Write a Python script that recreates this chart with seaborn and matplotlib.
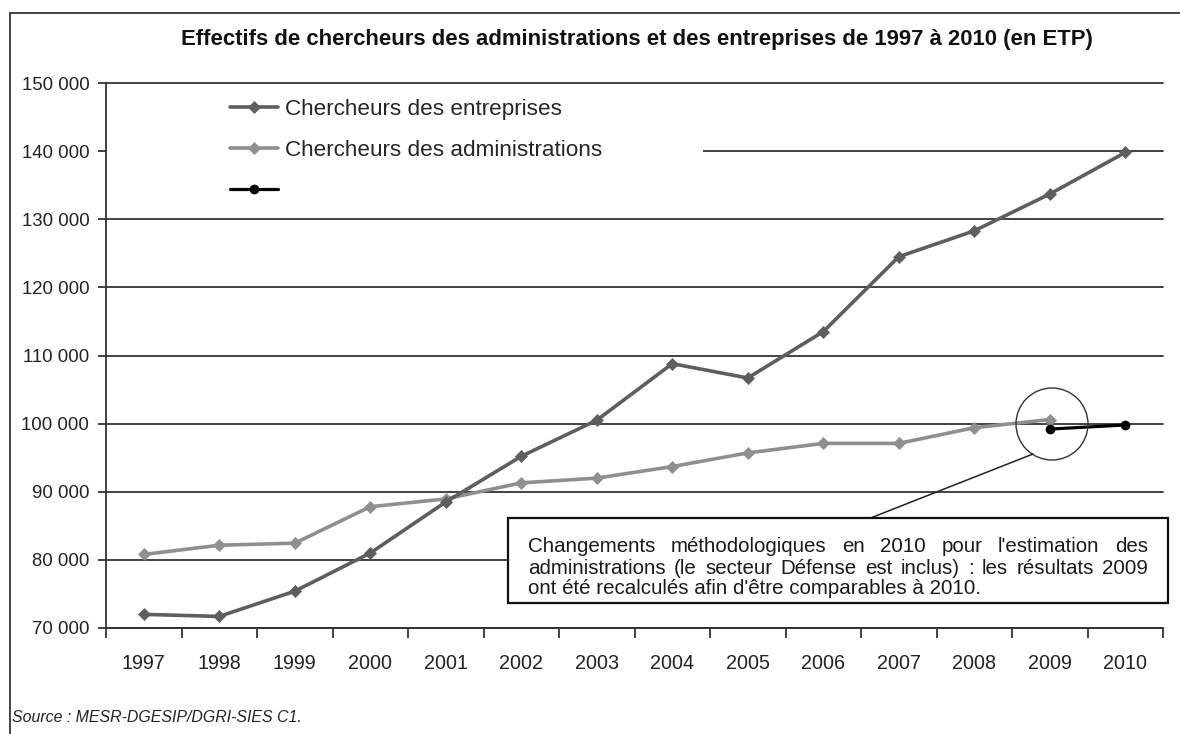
import matplotlib

matplotlib.use("Agg")
import matplotlib.pyplot as plt
import pandas as pd
import seaborn as sns
from matplotlib.lines import Line2D
from matplotlib.patches import Ellipse, Rectangle
from matplotlib.ticker import FixedLocator, FuncFormatter

# --- data ---
years = list(range(1997, 2011))
entreprises = [72000, 71700, 75400, 81000, 88500, 95200, 100500,
               108800, 106700, 113500, 124500, 128300, 133700, 139800]
admin_years = list(range(1997, 2010))
administrations = [80800, 82150, 82450, 87800, 88950, 91300, 92000,
                   93700, 95700, 97100, 97100, 99400, 100600]
new_method_years = [2009, 2010]
new_method_values = [99200, 99800]

y_ticks = [70000, 80000, 90000, 100000, 110000, 120000, 130000, 140000, 150000]
series_labels = ["Chercheurs des entreprises", "Chercheurs des administrations", ""]

title = "Effectifs de chercheurs des administrations et des entreprises de 1997 à 2010 (en ETP)"
note_lines = [
    "Changements méthodologiques en 2010 pour l'estimation des",
    "administrations (le secteur Défense est inclus) : les résultats 2009",
    "ont été recalculés afin d'être comparables à 2010.",
]
source = "Source : MESR-DGESIP/DGRI-SIES C1."

sns.set_theme(style="white")
plt.rcParams["font.family"] = ["Liberation Sans", "DejaVu Sans"]

W, H = 1180, 734


def fx(x):
    return x / W


def fy(y):
    return 1 - y / H


fig = plt.figure(figsize=(W / 100, H / 100), dpi=100)
ax = fig.add_axes([fx(106), fy(628), (1163 - 106) / W, (628 - 83) / H])

ent_df = pd.DataFrame({"annee": years, "effectif": entreprises})
adm_df = pd.DataFrame({"annee": admin_years, "effectif": administrations})
new_df = pd.DataFrame({"annee": new_method_years, "effectif": new_method_values})

sns.lineplot(data=ent_df, x="annee", y="effectif", ax=ax, color="#5e5e5e",
             linewidth=2.6, marker="D", markersize=6, markeredgecolor="#5e5e5e",
             markeredgewidth=0.5, legend=False, zorder=4)
sns.lineplot(data=adm_df, x="annee", y="effectif", ax=ax, color="#8f8f8f",
             linewidth=2.6, marker="D", markersize=6, markeredgecolor="#8f8f8f",
             markeredgewidth=0.5, legend=False, zorder=3)
sns.lineplot(data=new_df, x="annee", y="effectif", ax=ax, color="black",
             linewidth=2.3, marker="o", markersize=6.5, markeredgecolor="black",
             markeredgewidth=0.5, legend=False, zorder=5)

ax.set_xlim(1996.5, 2010.5)
ax.set_ylim(y_ticks[0], y_ticks[-1])
ax.set_xlabel("")
ax.set_ylabel("")

ax.xaxis.set_major_locator(FixedLocator(years))
ax.xaxis.set_minor_locator(FixedLocator([y - 0.5 for y in years] + [years[-1] + 0.5]))
ax.set_xticklabels([str(y) for y in years])
ax.tick_params(axis="x", which="major", length=0, pad=19, labelsize=14.2, labelcolor="#222222")
ax.tick_params(axis="x", which="minor", bottom=True, length=7, width=1.3, color="#333333", direction="out")

ax.yaxis.set_major_locator(FixedLocator(y_ticks))
ax.yaxis.set_major_formatter(FuncFormatter(lambda v, _: f"{int(v):,}".replace(",", " ")))
ax.tick_params(axis="y", left=True, length=6, width=1.3, color="#333333", direction="out",
               pad=6, labelsize=13.4, labelcolor="#222222")

ax.set_axisbelow(True)
ax.yaxis.grid(True, color="#333333", linewidth=1.3)
ax.xaxis.grid(False)
for side in ["top", "right"]:
    ax.spines[side].set_visible(False)
for side in ["left", "bottom"]:
    ax.spines[side].set_color("#333333")
    ax.spines[side].set_linewidth(1.3)
for gl in ax.yaxis.get_gridlines():
    gl.set_clip_on(False)

# white area behind the legend, hiding the gridline like in the original
ax.add_patch(Rectangle(((107 - 106) / 1057, (628 - 205) / 545), (703 - 107) / 1057, (205 - 92) / 545,
                       transform=ax.transAxes, facecolor="white", edgecolor="none", zorder=1))

handles = ax.lines[:3]
ax.legend(handles=handles, labels=series_labels, loc="upper left",
          bbox_to_anchor=((230 - 106) / 1057, (628 - 99) / 545), frameon=False,
          fontsize=16.2, handlelength=2.15, handletextpad=0.28, labelspacing=0.88,
          borderpad=0, borderaxespad=0)

# circle around the 2009 values and pointer to the note
cx, cy = 1052, 424
fig.add_artist(Ellipse((fx(cx), fy(cy)), 72 / W, 72 / H, facecolor="none",
                       edgecolor="#333333", linewidth=1.0, zorder=6))
fig.add_artist(Line2D([fx(868), fx(1033)], [fy(519), fy(454)], color="#222222",
                      linewidth=1.1, zorder=6))

# note box
fig.add_artist(Rectangle((fx(508), fy(603)), (1168 - 508) / W, (603 - 518) / H,
                         facecolor="white", edgecolor="#111111", linewidth=1.6, zorder=7))

renderer = fig.canvas.get_renderer()
note_left, note_right = 528, 1148
note_y = [547, 568, 589]

# font size chosen so the last (unjustified) line has the width of the original
probe = fig.text(0, 0, note_lines[-1], fontsize=14)
note_size = 14 * 457 / probe.get_window_extent(renderer).width
probe.remove()

for i, line in enumerate(note_lines):
    if i == len(note_lines) - 1:
        fig.text(fx(note_left), fy(note_y[i]), line, fontsize=note_size, color="#1a1a1a",
                 va="center", ha="left", zorder=8)
        continue
    words = line.split(" ")
    texts = [fig.text(0, fy(note_y[i]), w, fontsize=note_size, color="#1a1a1a",
                      va="center", ha="left", zorder=8) for w in words]
    widths = [t.get_window_extent(renderer).width for t in texts]
    gap = (note_right - note_left - sum(widths)) / (len(words) - 1)
    x = note_left
    for t, w in zip(texts, widths):
        t.set_x(fx(x))
        x += w + gap

# title fitted to the width of the original
t = fig.text(fx(637), fy(40), title, ha="center", va="center", fontsize=15,
             fontweight="bold", color="#111111")
tw = t.get_window_extent(renderer).width
t.set_fontsize(15 * 915 / tw)

fig.text(fx(12), fy(718), source, ha="left", va="center", fontsize=11.4,
         style="italic", color="#222222")

# outer frame
fig.add_artist(Rectangle((fx(10), fy(760)), (1200 - 10) / W, (760 - 13) / H,
                         facecolor="none", edgecolor="#444444", linewidth=1.4, zorder=0))

fig.savefig("out.png", dpi=100)
